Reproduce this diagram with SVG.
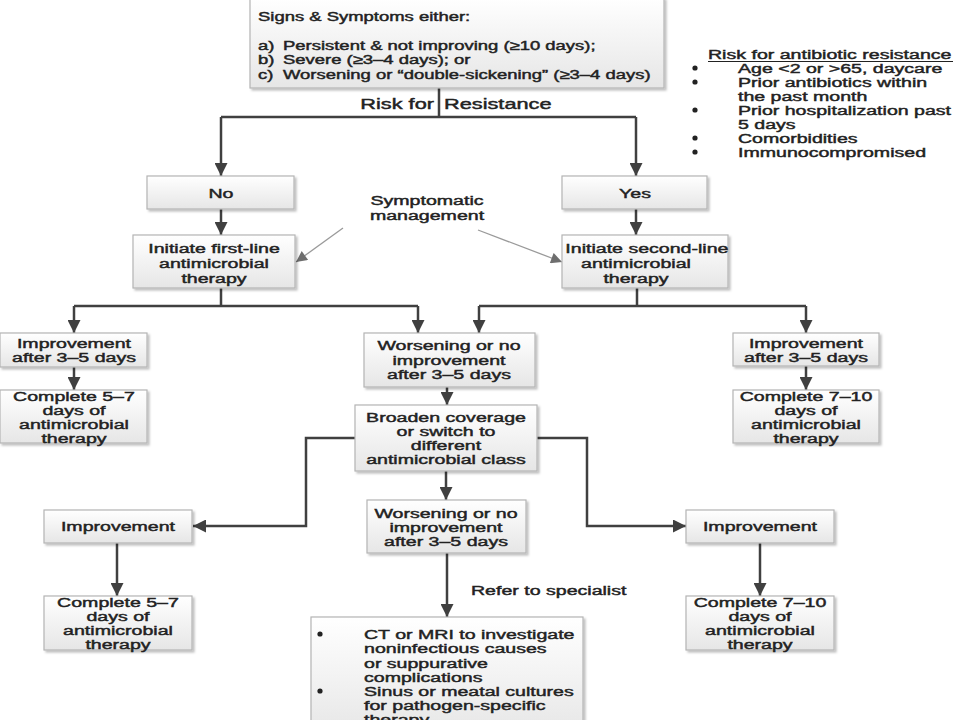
<svg xmlns="http://www.w3.org/2000/svg" width="960" height="720" viewBox="0 0 960 720">
<defs>
<linearGradient id="bg" x1="0" y1="0" x2="0" y2="1">
<stop offset="0" stop-color="#ffffff"/>
<stop offset="1" stop-color="#e6e6e6"/>
</linearGradient>
<filter id="sh" x="-10%" y="-10%" width="130%" height="140%">
<feDropShadow dx="2" dy="2" stdDeviation="1.2" flood-color="#000" flood-opacity="0.25"/>
</filter>
<marker id="ah" viewBox="0 0 12 12" markerWidth="13" markerHeight="13" refX="12" refY="6" orient="auto" markerUnits="userSpaceOnUse">
<path d="M0,0 L12,6 L0,12 Z" fill="#404040"/>
</marker>
<marker id="ag" viewBox="0 0 12 12" markerWidth="13" markerHeight="11" refX="12" refY="6" orient="auto" markerUnits="userSpaceOnUse">
<path d="M0,0 L12,6 L0,12 Z" fill="#6e6e6e"/>
</marker>
</defs>
<style>
.box{fill:url(#bg);stroke:#b4b4b4;stroke-width:1.2;filter:url(#sh)}
.t{font-family:"Liberation Sans",Arial,sans-serif;font-size:13.5px;fill:#222;stroke:#222;stroke-width:0.45;text-anchor:middle}
.l{font-family:"Liberation Sans",Arial,sans-serif;font-size:13.5px;fill:#222;stroke:#222;stroke-width:0.45}
.c{fill:none;stroke:#404040;stroke-width:2.5}
.a{marker-end:url(#ah)}
.g{fill:none;stroke:#9a9a9a;stroke-width:1.3;marker-end:url(#ag)}
</style>
<rect width="960" height="720" fill="#ffffff"/>

<g id="connectors">
<path class="c" d="M439,88 V117 M221,117 H636"/>
<path class="c a" d="M221,117 V176"/>
<path class="c a" d="M636,117 V176"/>
<path class="c a" d="M221,209 V235"/>
<path class="c a" d="M636,209 V235"/>
<path class="c" d="M221,288 V306 M74,306 H418 M637,288 V306 M479,306 H806"/>
<path class="c a" d="M74,306 V333"/>
<path class="c a" d="M418,306 V333"/>
<path class="c a" d="M479,306 V333"/>
<path class="c a" d="M806,306 V333"/>
<path class="c a" d="M74,367 V390"/>
<path class="c a" d="M806,366 V390"/>
<path class="c a" d="M447,387 V405"/>
<path class="c a" d="M355,438 H306 V526 H193"/>
<path class="c a" d="M537,438 H587 V526 H686"/>
<path class="c a" d="M446,471 V500"/>
<path class="c a" d="M117,543 V596"/>
<path class="c a" d="M760,543 V596"/>
<path class="c a" d="M447,553 V617"/>
<path class="g" d="M343,228 L296,262"/>
<path class="g" d="M478,230 L562,262"/>
</g>

<g id="top">
<rect class="box" x="250" y="-2" width="414" height="90"/>
<text class="l" transform="translate(258,21) scale(1.42 1)" style="font-size:13px">Signs &amp; Symptoms either:</text>
<text class="l" transform="translate(258,50) scale(1.42 1)" style="font-size:13px">a)</text>
<text class="l" transform="translate(283,50) scale(1.42 1)" style="font-size:13px">Persistent &amp; not improving (≥10 days);</text>
<text class="l" transform="translate(258,64) scale(1.42 1)" style="font-size:13px">b)</text>
<text class="l" transform="translate(283,64) scale(1.42 1)" style="font-size:13px">Severe (≥3–4 days); or</text>
<text class="l" transform="translate(258,79) scale(1.42 1)" style="font-size:13px">c)</text>
<text class="l" transform="translate(283,79) scale(1.42 1)" style="font-size:13px">Worsening or “double-sickening” (≥3–4 days)</text>
</g>

<g id="risk-label">
<text class="l" transform="translate(434,109) scale(1.45 1)" style="font-size:15px;text-anchor:end">Risk for</text>
<text class="l" transform="translate(444,109) scale(1.45 1)" style="font-size:15px">Resistance</text>
</g>

<g id="risk-list">
<text class="l" transform="translate(708,59) scale(1.45 1)">Risk for antibiotic resistance</text>
<line x1="708" y1="61.5" x2="953" y2="61.5" stroke="#222" stroke-width="1"/>
<circle cx="695" cy="68" r="2.6" fill="#222"/>
<circle cx="695" cy="82" r="2.6" fill="#222"/>
<circle cx="695" cy="110" r="2.6" fill="#222"/>
<circle cx="695" cy="138" r="2.6" fill="#222"/>
<circle cx="695" cy="152" r="2.6" fill="#222"/>
<text class="l" transform="translate(738,0) scale(1.45 1)"><tspan x="0" y="73">Age &lt;2 or &gt;65, daycare</tspan><tspan x="0" y="87">Prior antibiotics within</tspan><tspan x="0" y="101">the past month</tspan><tspan x="0" y="115">Prior hospitalization past</tspan><tspan x="0" y="129">5 days</tspan><tspan x="0" y="143">Comorbidities</tspan><tspan x="0" y="157">Immunocompromised</tspan></text>
</g>

<g id="no">
<rect class="box" x="147" y="176" width="147" height="33"/>
<text class="t" transform="translate(221,198) scale(1.45 1)">No</text>
</g>
<g id="yes">
<rect class="box" x="562" y="176" width="145" height="33"/>
<text class="t" transform="translate(635,198) scale(1.45 1)">Yes</text>
</g>

<g id="symptomatic">
<text class="t" transform="translate(427,0) scale(1.45 1)"><tspan x="0" y="205">Symptomatic</tspan><tspan x="0" y="220">management</tspan></text>
</g>

<g id="first-line">
<rect class="box" x="133" y="235" width="162" height="53"/>
<text class="t" transform="translate(214,0) scale(1.45 1)"><tspan x="0" y="253">Initiate first-line</tspan><tspan x="0" y="268">antimicrobial</tspan><tspan x="0" y="283">therapy</tspan></text>
</g>
<g id="second-line">
<rect class="box" x="562" y="235" width="166" height="53"/>
<text class="t" transform="translate(636,0) scale(1.45 1)"><tspan x="7.5" y="253">Initiate second-line</tspan><tspan x="0" y="268">antimicrobial</tspan><tspan x="0" y="283">therapy</tspan></text>
</g>

<g id="improve-l1">
<rect class="box" x="0" y="333" width="147" height="34"/>
<text class="t" transform="translate(74,0) scale(1.45 1)"><tspan x="0" y="348">Improvement</tspan><tspan x="0" y="362">after 3–5 days</tspan></text>
</g>
<g id="complete-l1">
<rect class="box" x="0" y="390" width="147" height="53"/>
<text class="t" transform="translate(74,0) scale(1.45 1)"><tspan x="0" y="401">Complete 5–7</tspan><tspan x="0" y="415">days of</tspan><tspan x="0" y="429">antimicrobial</tspan><tspan x="0" y="443">therapy</tspan></text>
</g>

<g id="worse-1">
<rect class="box" x="364" y="333" width="171" height="54"/>
<text class="t" transform="translate(449,0) scale(1.45 1)"><tspan x="0" y="350">Worsening or no</tspan><tspan x="0" y="365">improvement</tspan><tspan x="0" y="379">after 3–5 days</tspan></text>
</g>

<g id="improve-r1">
<rect class="box" x="733" y="333" width="146" height="33"/>
<text class="t" transform="translate(806,0) scale(1.45 1)"><tspan x="0" y="348">Improvement</tspan><tspan x="0" y="362">after 3–5 days</tspan></text>
</g>
<g id="complete-r1">
<rect class="box" x="733" y="390" width="146" height="53"/>
<text class="t" transform="translate(806,0) scale(1.45 1)"><tspan x="0" y="401">Complete 7–10</tspan><tspan x="0" y="415">days of</tspan><tspan x="0" y="429">antimicrobial</tspan><tspan x="0" y="443">therapy</tspan></text>
</g>

<g id="broaden">
<rect class="box" x="355" y="405" width="182" height="66"/>
<text class="t" transform="translate(446,0) scale(1.45 1)"><tspan x="0" y="422">Broaden coverage</tspan><tspan x="0" y="436">or switch to</tspan><tspan x="0" y="450">different</tspan><tspan x="0" y="464">antimicrobial class</tspan></text>
</g>

<g id="improve-l2">
<rect class="box" x="44" y="510" width="148" height="33"/>
<text class="t" transform="translate(118,531) scale(1.45 1)">Improvement</text>
</g>
<g id="worse-2">
<rect class="box" x="367" y="500" width="159" height="53"/>
<text class="t" transform="translate(446,0) scale(1.45 1)"><tspan x="0" y="518">Worsening or no</tspan><tspan x="0" y="532">improvement</tspan><tspan x="0" y="546">after 3–5 days</tspan></text>
</g>
<g id="improve-r2">
<rect class="box" x="686" y="510" width="148" height="33"/>
<text class="t" transform="translate(760,531) scale(1.45 1)">Improvement</text>
</g>

<g id="complete-l2">
<rect class="box" x="44" y="596" width="148" height="54"/>
<text class="t" transform="translate(118,0) scale(1.45 1)"><tspan x="0" y="607">Complete 5–7</tspan><tspan x="0" y="621">days of</tspan><tspan x="0" y="635">antimicrobial</tspan><tspan x="0" y="649">therapy</tspan></text>
</g>
<g id="complete-r2">
<rect class="box" x="686" y="596" width="148" height="54"/>
<text class="t" transform="translate(760,0) scale(1.45 1)"><tspan x="0" y="607">Complete 7–10</tspan><tspan x="0" y="621">days of</tspan><tspan x="0" y="635">antimicrobial</tspan><tspan x="0" y="649">therapy</tspan></text>
</g>

<g id="refer-label">
<text class="l" transform="translate(471,595) scale(1.45 1)">Refer to specialist</text>
</g>

<g id="specialist">
<rect class="box" x="311" y="617" width="272" height="120"/>
<circle cx="320" cy="634" r="2.6" fill="#222"/>
<circle cx="320" cy="691" r="2.6" fill="#222"/>
<text class="l" transform="translate(364,0) scale(1.45 1)"><tspan x="0" y="639">CT or MRI to investigate</tspan><tspan x="0" y="653">noninfectious causes</tspan><tspan x="0" y="668">or suppurative</tspan><tspan x="0" y="682">complications</tspan><tspan x="0" y="696">Sinus or meatal cultures</tspan><tspan x="0" y="710">for pathogen-specific</tspan><tspan x="0" y="724">therapy</tspan></text>
</g>
</svg>
